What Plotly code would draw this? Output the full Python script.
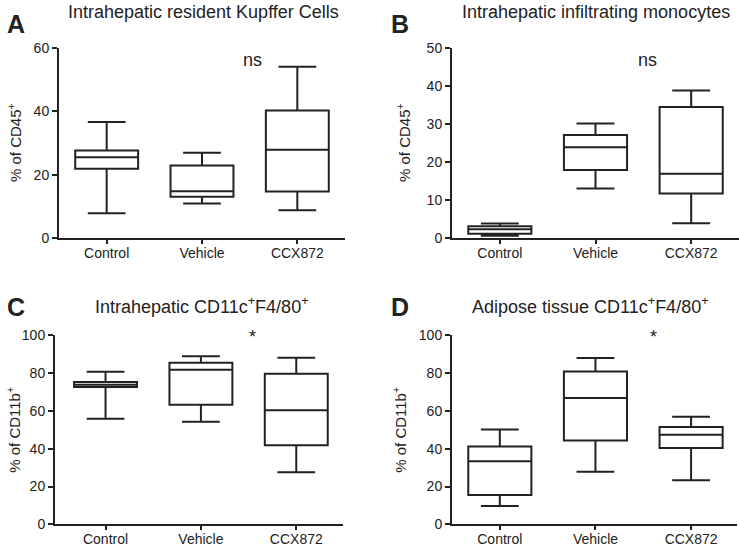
import plotly.graph_objects as go

W, H = 739, 548

categories = ["Control", "Vehicle", "CCX872"]

# Panel A: Intrahepatic resident Kupffer Cells (% of CD45+)
a_min = [7.8, 10.9, 8.8]
a_q1 = [21.9, 13.0, 14.7]
a_med = [25.5, 14.8, 27.9]
a_q3 = [27.6, 22.9, 40.3]
a_max = [36.6, 26.9, 54.1]

# Panel B: Intrahepatic infiltrating monocytes (% of CD45+)
b_min = [0.6, 13.0, 3.9]
b_q1 = [1.1, 17.9, 11.7]
b_med = [2.3, 23.9, 16.9]
b_q3 = [3.1, 27.1, 34.5]
b_max = [3.8, 30.1, 38.8]

# Panel C: Intrahepatic CD11c+F4/80+ (% of CD11b+)
c_min = [55.9, 54.3, 27.5]
c_q1 = [72.6, 63.3, 41.8]
c_med = [73.9, 81.8, 60.3]
c_q3 = [75.3, 85.5, 79.7]
c_max = [80.7, 88.9, 88.1]

# Panel D: Adipose tissue CD11c+F4/80+ (% of CD11b+)
d_min = [9.7, 27.8, 23.3]
d_q1 = [15.5, 44.4, 40.4]
d_med = [33.3, 66.8, 47.4]
d_q3 = [41.1, 80.9, 51.5]
d_max = [50.1, 88.0, 56.9]

titles = ["Intrahepatic resident Kupffer Cells",
          "Intrahepatic infiltrating monocytes",
          "Intrahepatic CD11c<sup>+</sup>F4/80<sup>+</sup>",
          "Adipose tissue CD11c<sup>+</sup>F4/80<sup>+</sup>"]
letters = ["A", "B", "C", "D"]
ytitles = ["% of CD45<sup>+</sup>", "% of CD45<sup>+</sup>",
           "% of CD11b<sup>+</sup>", "% of CD11b<sup>+</sup>"]
signif = ["ns", "ns", "*", "*"]
yranges = [[0, 60], [0, 50], [0, 100], [0, 100]]
ydticks = [20, 10, 20, 20]

FONT = "Liberation Sans, Arial, sans-serif"
INK = "#222222"

def px_x(x):
    return x / W

def px_y(y):
    return 1 - y / H

# pixel geometry of each panel: (left, right, top, bottom)
geom = [(59, 345, 48, 238), (452, 739, 48, 238),
        (55, 343, 335.3, 524.3), (452, 737, 335.3, 524.3)]
xranges = [[-0.5, 2.5], [-0.5, 2.5], [-0.53, 2.49], [-0.5, 2.48]]

data = [(a_min, a_q1, a_med, a_q3, a_max),
        (b_min, b_q1, b_med, b_q3, b_max),
        (c_min, c_q1, c_med, c_q3, c_max),
        (d_min, d_q1, d_med, d_q3, d_max)]

fig = go.Figure()
layout = dict(width=W, height=H, autosize=False,
              margin=dict(l=0, r=0, t=0, b=0, pad=0, autoexpand=False),
              paper_bgcolor="white", plot_bgcolor="white",
              showlegend=False, font=dict(family=FONT, color=INK, size=14))
annotations = []

title_pos = [(203, 12), (596, 12), (202, 305), (590, 305)]
letter_pos = [(16, 24), (400, 24), (16, 307), (400, 307)]
ytitle_x = [14, 403, 14, 400]
sig_pos = [(252, 60), (647, 60), (253, 337), (653, 337)]

for i in range(4):
    mn, q1, md, q3, mx = data[i]
    suf = "" if i == 0 else str(i + 1)
    fig.add_trace(go.Box(
        x=categories, lowerfence=mn, q1=q1, median=md, q3=q3, upperfence=mx,
        xaxis="x" + suf, yaxis="y" + suf,
        width=0.66, whiskerwidth=0.6, boxpoints=False,
        fillcolor="rgba(0,0,0,0)", line=dict(color=INK, width=2),
        hoverinfo="skip"))
    l, r, t, b = geom[i]
    layout["xaxis" + suf] = dict(
        domain=[px_x(l), px_x(r)], range=xranges[i], anchor="y" + suf,
        type="category", showline=True, linecolor=INK, linewidth=2,
        ticks="outside", ticklen=4, tickwidth=1.5, tickcolor=INK,
        ticklabelstandoff=-3,
        showgrid=False, zeroline=False, automargin=False,
        tickfont=dict(size=14, family=FONT, color=INK))
    layout["yaxis" + suf] = dict(
        domain=[px_y(b), px_y(t)], range=yranges[i], anchor="x" + suf,
        showline=True, linecolor=INK, linewidth=2,
        ticks="outside", ticklen=5, tickwidth=1.5, tickcolor=INK,
        dtick=ydticks[i], tick0=0, showgrid=False, zeroline=False,
        automargin=False,
        tickfont=dict(size=14, family=FONT, color=INK))
    annotations.append(dict(text=titles[i], x=px_x(title_pos[i][0]), y=px_y(title_pos[i][1]),
                            xref="paper", yref="paper", showarrow=False,
                            xanchor="center", yanchor="middle",
                            font=dict(size=18, family=FONT, color=INK)))
    annotations.append(dict(text="<b>" + letters[i] + "</b>", x=px_x(letter_pos[i][0]),
                            y=px_y(letter_pos[i][1]), xref="paper", yref="paper",
                            showarrow=False, xanchor="center", yanchor="middle",
                            font=dict(size=25, family=FONT, color=INK)))
    annotations.append(dict(text=ytitles[i], x=px_x(ytitle_x[i]), y=px_y((t + b) / 2),
                            xref="paper", yref="paper", showarrow=False, textangle=-90,
                            xanchor="center", yanchor="middle",
                            font=dict(size=15, family=FONT, color=INK)))
    annotations.append(dict(text=signif[i], x=px_x(sig_pos[i][0]), y=px_y(sig_pos[i][1]),
                            xref="paper", yref="paper", showarrow=False,
                            xanchor="center", yanchor="middle",
                            font=dict(size=18, family=FONT, color=INK)))

layout["annotations"] = annotations
fig.update_layout(**layout)
fig.write_html("out.html", config={"displayModeBar": False},
               post_script="document.body.style.margin='0';document.body.style.padding='0';")
